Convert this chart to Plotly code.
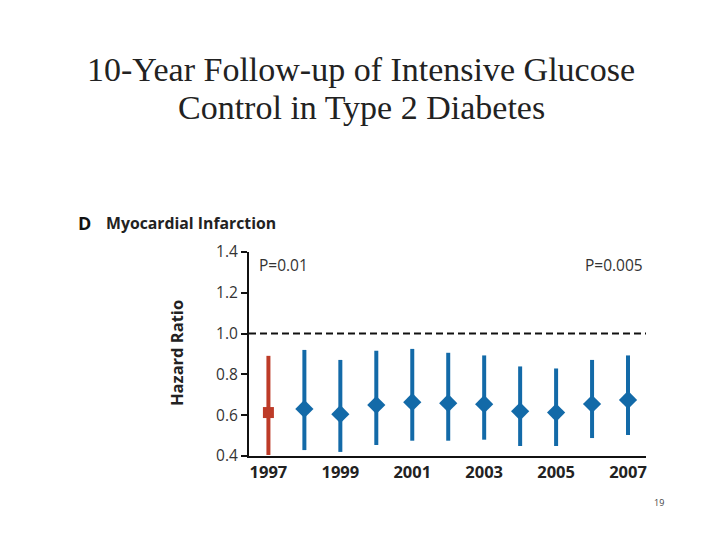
import plotly.graph_objects as go

# Data
years = [1997, 1998, 1999, 2000, 2001, 2002, 2003, 2004, 2005, 2006, 2007]
hazard_ratio = [0.613, 0.631, 0.605, 0.650, 0.664, 0.659, 0.654, 0.619, 0.613, 0.655, 0.675]
ci_upper = [0.891, 0.920, 0.871, 0.916, 0.925, 0.906, 0.893, 0.839, 0.829, 0.871, 0.893]
ci_lower = [0.405, 0.429, 0.420, 0.454, 0.475, 0.475, 0.480, 0.449, 0.449, 0.488, 0.503]
x_tick_labels = ["1997", "1999", "2001", "2003", "2005", "2007"]
x_tick_vals = [1997, 1999, 2001, 2003, 2005, 2007]
y_tick_vals = [0.4, 0.6, 0.8, 1.0, 1.2, 1.4]
y_tick_labels = ["0.4", "0.6", "0.8", "1.0", "1.2", "1.4"]

RED = "#bd3b28"
BLUE = "#136aa8"
SANS = "Open Sans, Liberation Sans, sans-serif"
SERIF = "Liberation Serif, DejaVu Serif, serif"

# page offset (body margin) compensation
OX, OY = 8, 8
L, R, T, B = 249 - OX, 646 - OX, 252 - OY, 456 - OY
W, H = R - L, B - T

def px(x):
    return (x - OX - L) / W

def py(y):
    return (B - (y - OY)) / H

fig = go.Figure()

def add_point(idx, color, symbol, size):
    fig.add_trace(go.Scatter(
        x=[years[i] for i in idx],
        y=[hazard_ratio[i] for i in idx],
        mode="markers",
        marker=dict(color=color, symbol=symbol, size=size, line=dict(width=0)),
        error_y=dict(type="data", symmetric=False,
                     array=[ci_upper[i] - hazard_ratio[i] for i in idx],
                     arrayminus=[hazard_ratio[i] - ci_lower[i] for i in idx],
                     color=color, thickness=4, width=0),
        showlegend=False,
        cliponaxis=False,
    ))

add_point([0], RED, "square", 11)
add_point(list(range(1, len(years))), BLUE, "diamond", 14)

fig.add_shape(type="line", xref="paper", yref="y", x0=0, x1=1, y0=1.0, y1=1.0,
              line=dict(color="#111111", width=2, dash="7px,4px"), layer="below")

fig.update_xaxes(range=[1996.46, 2007.5], tickvals=x_tick_vals, ticktext=x_tick_labels,
                 showgrid=False, zeroline=False, showline=True, linecolor="#111111",
                 linewidth=2, ticks="",
                 tickfont=dict(family=SANS, size=16.5, color="#222222", weight="bold"))
fig.update_yaxes(range=[0.4, 1.4], tickvals=y_tick_vals, ticktext=y_tick_labels,
                 showgrid=False, zeroline=False, showline=True, linecolor="#111111",
                 linewidth=2, ticks="outside", ticklen=6, tickwidth=1.5, tickcolor="#111111",
                 tickfont=dict(family=SANS, size=15.5, color="#333333"))

titles = [
    ("10-Year Follow-up of Intensive Glucose", 361, 69),
    ("Control in Type 2 Diabetes", 361, 107),
]
for text, x, y in titles:
    fig.add_annotation(text=text, xref="paper", yref="paper",
                       x=px(x), y=py(y), xanchor="center", yanchor="middle", showarrow=False,
                       font=dict(family=SERIF, size=34, color="#222222"))

fig.add_annotation(text="<b>D</b>", xref="paper", yref="paper",
                   x=px(76), y=py(223), xanchor="left", yanchor="middle",
                   showarrow=False, font=dict(family=SANS, size=18, color="#111111"))
fig.add_annotation(text="<b>Myocardial Infarction</b>", xref="paper", yref="paper",
                   x=px(104), y=py(223), xanchor="left", yanchor="middle",
                   showarrow=False, font=dict(family=SANS, size=15.8, color="#222222"))
fig.add_annotation(text="<b>Hazard Ratio</b>", xref="paper", yref="paper", textangle=-90,
                   x=px(176), y=py(353), xanchor="center", yanchor="middle",
                   showarrow=False, font=dict(family=SANS, size=16.5, color="#222222"))
fig.add_annotation(text="P=0.01", xref="paper", yref="paper",
                   x=px(257), y=py(265), xanchor="left", yanchor="middle",
                   showarrow=False, font=dict(family=SANS, size=15.5, color="#333333"))
fig.add_annotation(text="P=0.005", xref="paper", yref="paper",
                   x=px(645), y=py(265), xanchor="right", yanchor="middle",
                   showarrow=False, font=dict(family=SANS, size=15.5, color="#333333"))
fig.add_annotation(text="19", xref="paper", yref="paper",
                   x=px(659), y=py(502), xanchor="center", yanchor="middle",
                   showarrow=False, font=dict(family=SANS, size=9, color="#444444"))

fig.update_layout(width=720, height=540, paper_bgcolor="white", plot_bgcolor="white",
                  margin=dict(l=L, r=720 - R, t=T, b=540 - B), showlegend=False)

fig.write_html("out.html")
